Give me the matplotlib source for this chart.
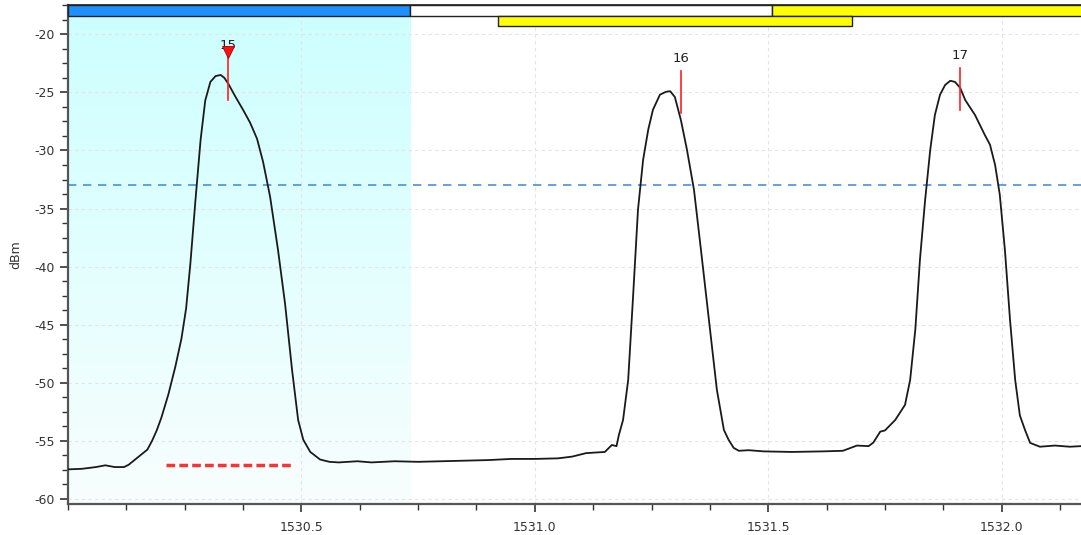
import numpy as np
import matplotlib
matplotlib.use("Agg")
import matplotlib.pyplot as plt
from matplotlib.ticker import MultipleLocator, FixedLocator, FormatStrFormatter
import matplotlib.transforms as mtransforms

plt.rcParams['axes.unicode_minus'] = False
plt.rcParams['font.family'] = ['DejaVu Sans']

# spectrum trace (wavelength nm, power dBm)
wavelength = [1530.00, 1530.03, 1530.06, 1530.08, 1530.10, 1530.12, 1530.13, 1530.15, 1530.17,
              1530.18, 1530.19, 1530.20, 1530.215, 1530.23, 1530.243, 1530.253, 1530.262, 1530.273,
              1530.284, 1530.294, 1530.305, 1530.316, 1530.327, 1530.335, 1530.344, 1530.359,
              1530.375, 1530.39, 1530.405, 1530.418, 1530.433, 1530.45, 1530.465, 1530.48, 1530.493,
              1530.504, 1530.519, 1530.54, 1530.56, 1530.58, 1530.62, 1530.65, 1530.70,
              1530.75, 1530.80, 1530.85, 1530.90, 1530.95, 1531.00, 1531.05, 1531.08,
              1531.11, 1531.15, 1531.165, 1531.175, 1531.18, 1531.189, 1531.20, 1531.21,
              1531.221, 1531.232, 1531.243, 1531.253, 1531.268, 1531.281, 1531.29, 1531.30,
              1531.313, 1531.326, 1531.341, 1531.356, 1531.373, 1531.39, 1531.405, 1531.415,
              1531.426, 1531.437, 1531.458, 1531.49, 1531.55, 1531.618, 1531.66, 1531.69,
              1531.715, 1531.725, 1531.74, 1531.75, 1531.772, 1531.793, 1531.804, 1531.815,
              1531.825, 1531.836, 1531.847, 1531.857, 1531.868, 1531.879, 1531.89, 1531.90,
              1531.911, 1531.922, 1531.943, 1531.964, 1531.975, 1531.986, 1531.996, 1532.007,
              1532.018, 1532.029, 1532.039, 1532.05, 1532.061, 1532.082, 1532.114, 1532.146,
              1532.17]
power = [-57.45, -57.40, -57.25, -57.10, -57.25, -57.25, -57.05, -56.40, -55.75,
         -55.00, -54.10, -53.00, -51.00, -48.60, -46.20, -43.60, -39.80, -34.30,
         -29.10, -25.70, -24.10, -23.60, -23.50, -23.75, -24.30, -25.40,
         -26.50, -27.60, -29.00, -31.00, -34.00, -38.60, -43.20, -48.90, -53.20,
         -54.90, -55.95, -56.60, -56.80, -56.85, -56.75, -56.85, -56.75,
         -56.80, -56.75, -56.70, -56.65, -56.55, -56.55, -56.50, -56.35,
         -56.05, -55.95, -55.35, -55.45, -54.50, -53.20, -49.75, -42.90,
         -35.10, -30.80, -28.20, -26.50, -25.20, -24.95, -24.90, -25.40,
         -27.40, -29.96, -33.40, -38.60, -44.60, -50.60, -54.05, -54.90,
         -55.60, -55.85, -55.80, -55.90, -55.95, -55.90, -55.85, -55.40,
         -55.45, -55.15, -54.20, -54.10, -53.20, -51.90, -49.75, -45.45,
         -39.40, -34.30, -29.96, -26.95, -25.20, -24.36, -24.00, -24.10,
         -24.60, -25.66, -26.95, -28.67, -29.50, -31.25, -33.80, -38.56,
         -44.60, -49.75, -52.80, -54.05, -55.17, -55.50, -55.40, -55.50,
         -55.45]

# channel markers
peak_wl = [1530.342, 1531.313, 1531.911]
peak_top = [-21.35, -23.13, -22.9]
peak_bottom = [-25.66, -26.75, -26.5]
peak_labels = ['15', '16', '17']
label_y = [-20.95, -22.07, -21.8]

threshold = -33.0
noise_level = -57.07
noise_span = [1530.209, 1530.48]

# band bars at the top: (start, end, color, row)
band_bars = [(1530.0, 1530.733, '#1e8fff', 0),
             (1530.733, 1531.508, 'white', 0),
             (1531.508, 1532.3, '#ffff00', 0),
             (1530.922, 1531.68, '#ffff00', 1)]
shade_span = [1530.0, 1530.733]

xlim = (1530.0, 1532.17)
ylim = (-60.43, -17.48)

fig = plt.figure(figsize=(10.81, 5.35), dpi=100)
ax = fig.add_axes([68 / 1081, 1 - 504 / 535, 1 - 68 / 1081, 499 / 535])
ax.set_xlim(*xlim)
ax.set_ylim(*ylim)

# light cyan gradient shading
grad = np.linspace(0, 1, 256).reshape(-1, 1)
top_c = np.array([0.80, 1.0, 1.0])
bot_c = np.array([0.975, 0.995, 0.995])
img = bot_c + (top_c - bot_c) * grad
ax.imshow(img[:, None, :].repeat(2, axis=1), extent=[shade_span[0], shade_span[1], ylim[0], ylim[1]],
          origin='lower', aspect='auto', zorder=0, interpolation='bilinear')

ax.grid(True, which='major', color='#e4e4e4', linestyle=(0, (3, 3)), linewidth=0.8)
ax.set_axisbelow(True)

ax.axhline(threshold, color='#4a8fe0', linestyle=(0, (5, 4)), linewidth=1.2, zorder=2)
ax.plot(noise_span, [noise_level, noise_level], color='#ff3030', linestyle=(0, (2.5, 1.2)),
        linewidth=2.5, zorder=3)

ax.plot(wavelength, power, color='#1a1a1a', linewidth=1.3, zorder=4)

for wl, t, b, lab, ly in zip(peak_wl, peak_top, peak_bottom, peak_labels, label_y):
    ax.plot([wl, wl], [t, b], color='#ff2020', linewidth=1.2, zorder=5)
    ax.text(wl, ly, lab, ha='center', va='center', fontsize=9.5, color='#222222', zorder=6)
ax.plot(peak_wl[0], peak_top[0] - 0.2, marker='v', color='#ff1010', markersize=8,
        markeredgecolor='#aa0000', markeredgewidth=0.6, zorder=7)

trans = mtransforms.blended_transform_factory(ax.transData, ax.transAxes)
row_h = 10.5 / 499
for x0, x1, col, row in band_bars:
    y0 = 1 - row_h * (row + 1)
    ax.add_patch(plt.Rectangle((x0, y0), x1 - x0, row_h, transform=trans, facecolor=col,
                               edgecolor='#222222', linewidth=1.0, zorder=8, clip_on=False))

ax.xaxis.set_major_locator(FixedLocator([1530.5, 1531.0, 1531.5, 1532.0]))
ax.xaxis.set_minor_locator(MultipleLocator(0.125))
ax.xaxis.set_major_formatter(FormatStrFormatter('%.1f'))
ax.yaxis.set_major_locator(MultipleLocator(5))
ax.yaxis.set_minor_locator(MultipleLocator(1.25))

ax.tick_params(which='major', length=6, width=1.2, color='#333333', labelsize=9, labelcolor='#333333')
ax.tick_params(which='minor', length=4, width=1.0, color='#333333')
ax.tick_params(axis='x', pad=6)

for s in ['left', 'bottom']:
    ax.spines[s].set_color('#555555')
    ax.spines[s].set_linewidth(1.6)
ax.spines['top'].set_color('#222222')
ax.spines['top'].set_linewidth(1.2)
ax.spines['right'].set_visible(False)

ax.set_ylabel('dBm', fontsize=9, color='#333333', labelpad=9)

fig.savefig('out.png', dpi=100)
